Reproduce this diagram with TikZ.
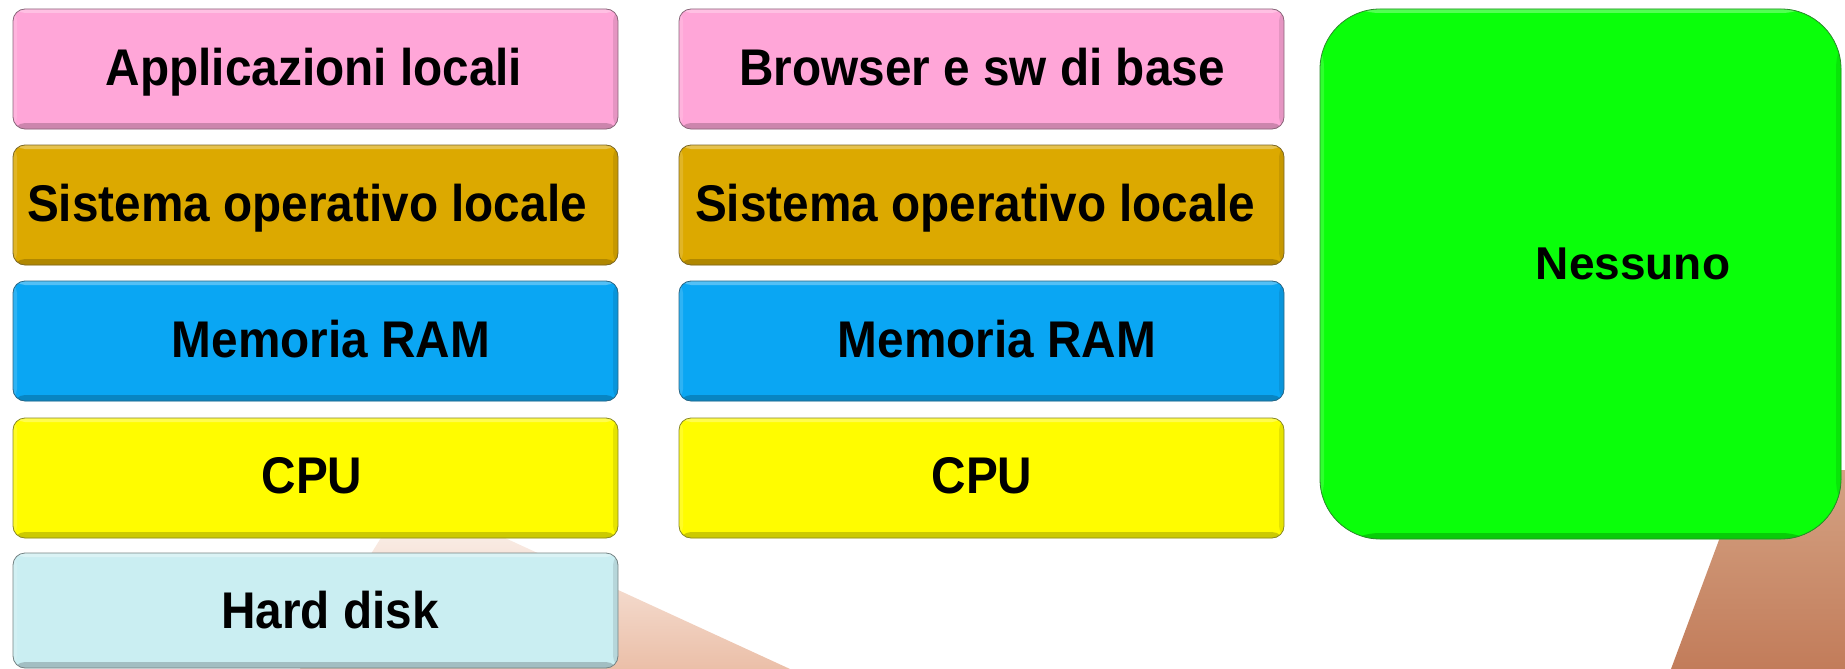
\documentclass[tikz,border=0pt]{standalone}
\usepackage{fontspec}
\setmainfont{Liberation Sans}
\newfontfamily\narrowbf{Liberation Sans}[FakeStretch=0.925]
\usetikzlibrary{calc}
\definecolor{cpink}{HTML}{FFA6D8}
\definecolor{cgold}{HTML}{DCA900}
\definecolor{cblue}{HTML}{0AA6F3}
\definecolor{cyel}{HTML}{FFFC00}
\definecolor{ccyan}{HTML}{CAEEF2}
\definecolor{cgreen}{HTML}{0AFF0A}
\definecolor{salmon}{HTML}{EBBFA8}
\definecolor{browntop}{HTML}{D4A283}
\definecolor{brownbot}{HTML}{C27C5A}
\tikzset{
  layer/.style={rounded corners=12pt, fill=#1, draw=#1!55!black!70!gray, line width=0.8pt,
    inner sep=0pt, outer sep=0pt, anchor=north west,
    path picture={
      \fill[#1!80!black] ([yshift=6pt]path picture bounding box.south west) rectangle (path picture bounding box.south east);
      \fill[#1!90!black] ([xshift=-5pt]path picture bounding box.north east) rectangle (path picture bounding box.south east);
      \fill[white,opacity=0.3] (path picture bounding box.north west) rectangle ([yshift=-4pt]path picture bounding box.north east);
      \fill[white,opacity=0.15] (path picture bounding box.north west) rectangle ([xshift=4pt]path picture bounding box.south west);
    }},
  colbox/.style={layer=#1, minimum width=605pt, minimum height=120pt},
  boxtext/.style={anchor=base, inner sep=0pt, font=\narrowbf\bfseries\fontsize{51.6}{60}\selectfont},
  bigtext/.style={anchor=base, inner sep=0pt, font=\bfseries\fontsize{46}{55}\selectfont}
}
\begin{document}
\begin{tikzpicture}[x=1pt,y=-1pt]
\useasboundingbox (0,0) rectangle (1845,669);
\clip (0,0) rectangle (1845,669);
% background swooshes
\shade[top color=salmon!20, bottom color=salmon] (300,669) -- (395,515) -- (455,515) -- (790,669) -- cycle;
\shade[top color=browntop, bottom color=brownbot] (1745,470) -- (1845,470) -- (1845,669) -- (1671,669) -- cycle;
% left column
\node[colbox=cpink] (l1) at (13,9) {};
\node[colbox=cgold] (l2) at (13,145) {};
\node[colbox=cblue] (l3) at (13,281) {};
\node[colbox=cyel] (l4) at (13,418) {};
\node[colbox=ccyan, minimum height=115pt] (l5) at (13,553) {};
% middle column
\node[colbox=cpink] (m1) at (679,9) {};
\node[colbox=cgold] (m2) at (679,145) {};
\node[colbox=cblue] (m3) at (679,281) {};
\node[colbox=cyel] (m4) at (679,418) {};
% right box
\node[layer=cgreen, rounded corners=60pt, minimum width=521pt, minimum height=530pt] (g) at (1320,9) {};
% texts
\node[boxtext] (t1) at (314,85) {Applicazioni locali};
\node[boxtext] (t2) at (307,221) {Sistema operativo locale};
\node[boxtext] (t3) at (331,357) {Memoria RAM};
\node[boxtext] (t4) at (312,493) {CPU};
\node[boxtext] (t5) at (330,628) {Hard disk};
\node[boxtext] (u1) at (982,85) {Browser e sw di base};
\node[boxtext] (u2) at (975,221) {Sistema operativo locale};
\node[boxtext] (u3) at (997,357) {Memoria RAM};
\node[boxtext] (u4) at (982,493) {CPU};
\node[bigtext] (n) at (1633,279) {Nessuno};
\end{tikzpicture}
\end{document}
